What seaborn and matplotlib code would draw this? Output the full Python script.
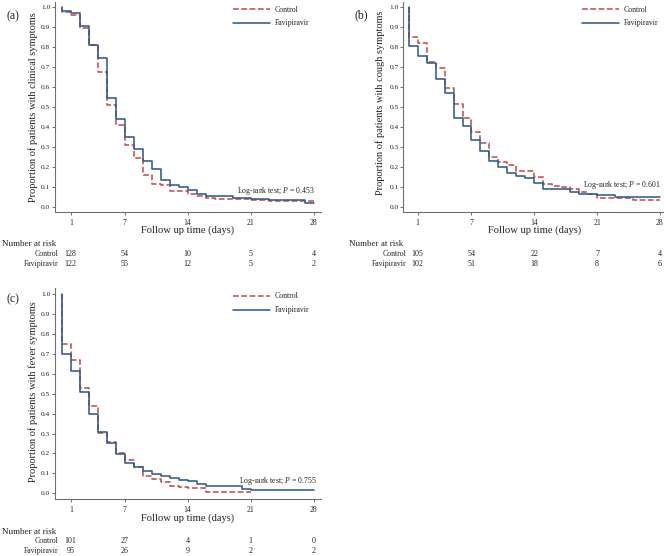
import numpy as np
import pandas as pd
import matplotlib
matplotlib.use("Agg")
import matplotlib.pyplot as plt
import matplotlib.transforms as mtransforms
import seaborn as sns

# ---------------- data ----------------
groups = ["Control", "Favipiravir"]

a_ctrl_t = [0, 0, 1, 2, 3, 4, 5, 6, 7, 8, 9, 10, 11, 12, 14, 15, 16, 17, 21, 23, 28]
a_ctrl_s = [1.0, 0.975, 0.958, 0.892, 0.81, 0.675, 0.508, 0.41, 0.31, 0.245, 0.16, 0.115,
            0.108, 0.08, 0.063, 0.053, 0.046, 0.038, 0.034, 0.03, 0.03]
a_fav_t = [0, 0, 1, 2, 3, 4, 5, 6, 7, 8, 9, 10, 11, 12, 13, 14, 15, 16, 19, 21, 23, 27, 28]
a_fav_s = [1.0, 0.98, 0.967, 0.903, 0.81, 0.745, 0.545, 0.44, 0.347, 0.29, 0.227, 0.187,
           0.133, 0.107, 0.097, 0.082, 0.063, 0.052, 0.046, 0.04, 0.033, 0.018, 0.018]

b_ctrl_t = [0, 0, 1, 2, 3, 4, 5, 6, 7, 8, 9, 10, 11, 12, 14, 15, 16, 17, 18, 19, 20, 21, 25, 28]
b_ctrl_s = [1.0, 0.853, 0.822, 0.725, 0.695, 0.597, 0.515, 0.443, 0.376, 0.318, 0.248, 0.222,
            0.207, 0.181, 0.15, 0.115, 0.105, 0.1, 0.09, 0.074, 0.063, 0.042, 0.034, 0.034]
b_fav_t = [0, 0, 1, 2, 3, 4, 5, 6, 7, 8, 9, 10, 11, 12, 13, 14, 15, 18, 19, 21, 23, 28]
b_fav_s = [1.0, 0.805, 0.757, 0.72, 0.64, 0.568, 0.443, 0.405, 0.333, 0.278, 0.231, 0.2,
           0.17, 0.154, 0.142, 0.12, 0.087, 0.075, 0.066, 0.06, 0.048, 0.048]

c_ctrl_t = [0, 0, 1, 2, 3, 4, 5, 6, 7, 8, 9, 10, 11, 12, 13, 14, 16, 21]
c_ctrl_s = [1.0, 0.75, 0.669, 0.527, 0.44, 0.305, 0.255, 0.203, 0.167, 0.134, 0.088, 0.072,
            0.055, 0.035, 0.03, 0.025, 0.008, 0.008]
c_fav_t = [0, 0, 1, 2, 3, 4, 5, 6, 7, 8, 9, 10, 11, 12, 13, 14, 15, 16, 20, 21, 28]
c_fav_s = [1.0, 0.70, 0.612, 0.51, 0.40, 0.308, 0.253, 0.195, 0.15, 0.134, 0.113, 0.098,
           0.087, 0.078, 0.068, 0.06, 0.048, 0.038, 0.022, 0.017, 0.017]

risk_days = [1, 7, 14, 21, 28]
a_risk_ctrl = [128, 54, 10, 5, 4]
a_risk_fav = [122, 55, 12, 5, 2]
b_risk_ctrl = [105, 54, 22, 7, 4]
b_risk_fav = [102, 51, 18, 8, 6]
c_risk_ctrl = [101, 27, 4, 1, 0]
c_risk_fav = [95, 26, 9, 2, 2]

ylabels = ["Proportion of patients with clinical symptoms",
           "Proportion of patients with cough symptoms",
           "Proportion of patients with fever symptoms"]
pvals = ["0.453", "0.601", "0.755"]
panel_tags = ["(a)", "(b)", "(c)"]
xticks = [1, 7, 14, 21, 28]
yticks = [0.0, 0.1, 0.2, 0.3, 0.4, 0.5, 0.6, 0.7, 0.8, 0.9, 1.0]

# ---------------- style ----------------
sns.set_style("white")
plt.rcParams["font.family"] = ["Liberation Serif", "DejaVu Serif"]
plt.rcParams["mathtext.fontset"] = "custom"
plt.rcParams["mathtext.it"] = "Liberation Serif:italic"
plt.rcParams["mathtext.rm"] = "Liberation Serif"

RED = "#c0504d"
BLUE = "#2f5b8c"
SPINE = "#6f6f6f"
TXT = "#222222"

W, H = 669, 556
fig = plt.figure(figsize=(W / 100, H / 100), dpi=100)


def rect(l, t, r, b):
    return [l / W, 1 - b / H, (r - l) / W, (b - t) / H]


def fx(x):
    return x / W


def fy(y):
    return 1 - y / H


panels = [
    dict(rect=rect(55, 1.7, 320.7, 212), xlim=(-0.75, 28.8), ylim=(-0.0265, 1.025),
         ctrl=(a_ctrl_t, a_ctrl_s), fav=(a_fav_t, a_fav_s),
         risk=(a_risk_ctrl, a_risk_fav), ylab_x=32.7, ylab_y=106.7,
         xlab_y=230.5, tag=(13.3, 16.7), leg=(233, 5.5),
         risk_title=(2, 244), risk_rows=(254, 263.5), risk_lab_x=58.5,
         pval_xy=(28.1, 0.078)),
    dict(rect=rect(403.3, 1.7, 663, 212.3), xlim=(-0.6, 28.35), ylim=(-0.028, 1.028),
         ctrl=(b_ctrl_t, b_ctrl_s), fav=(b_fav_t, b_fav_s),
         risk=(b_risk_ctrl, b_risk_fav), ylab_x=380, ylab_y=103,
         xlab_y=230.5, tag=(361.7, 15), leg=(581.5, 5.5),
         risk_title=(349, 244), risk_rows=(254, 263.5), risk_lab_x=406,
         pval_xy=(28.1, 0.11)),
    dict(rect=rect(55, 288.3, 320.7, 499), xlim=(-0.75, 28.8), ylim=(-0.0286, 1.0286),
         ctrl=(c_ctrl_t, c_ctrl_s), fav=(c_fav_t, c_fav_s),
         risk=(c_risk_ctrl, c_risk_fav), ylab_x=32.7, ylab_y=391.7,
         xlab_y=518, tag=(13.3, 299), leg=(233, 292.5),
         risk_title=(2, 531.7), risk_rows=(541, 550.7), risk_lab_x=58.5,
         pval_xy=(28.4, 0.062)),
]

for i, p in enumerate(panels):
    ax = fig.add_axes(p["rect"])
    df = pd.concat([
        pd.DataFrame({"day": p["ctrl"][0], "prob": p["ctrl"][1], "group": "Control"}),
        pd.DataFrame({"day": p["fav"][0], "prob": p["fav"][1], "group": "Favipiravir"}),
    ], ignore_index=True)
    sns.lineplot(data=df, x="day", y="prob", hue="group", style="group",
                 hue_order=groups, style_order=groups,
                 palette={"Control": RED, "Favipiravir": BLUE},
                 dashes={"Control": (3.6, 1.6), "Favipiravir": ""},
                 drawstyle="steps-post", estimator=None, sort=False,
                 linewidth=1.15, ax=ax)
    ax.set_xlim(*p["xlim"])
    ax.set_ylim(*p["ylim"])
    ax.set_xticks(xticks)
    ax.set_yticks(yticks)
    ax.set_yticklabels([f"{v:.1f}" for v in yticks])
    for s in ["top", "right"]:
        ax.spines[s].set_visible(False)
    for s in ["left", "bottom"]:
        ax.spines[s].set_color(SPINE)
        ax.spines[s].set_linewidth(0.8)
    ax.tick_params(axis="y", which="major", direction="out", length=2.4, width=0.7,
                   color=SPINE, labelsize=5.3, labelcolor=TXT, pad=1.0, left=True)
    ax.tick_params(axis="x", which="major", direction="out", length=2.4, width=0.7,
                   color=SPINE, labelsize=5.5, labelcolor=TXT, pad=2.5, bottom=True)
    ax.set_ylabel(ylabels[i], fontsize=7.5, color=TXT)
    ax.yaxis.set_label_coords(fx(p["ylab_x"]), 0, transform=fig.transFigure)
    ax.yaxis.label.set_va("center")
    ax.yaxis.label.set_y(fy(p["ylab_y"]))
    ax.set_xlabel("Follow up time (days)", fontsize=7.6, color=TXT)
    bl = mtransforms.blended_transform_factory(ax.transData, fig.transFigure)
    ax.xaxis.label.set_transform(bl)
    ax.xaxis.label.set_va("center")
    ax.xaxis.label.set_position((14, fy(p["xlab_y"])))
    ax.xaxis.set_label_coords(14, fy(p["xlab_y"]), transform=bl)

    # legend
    handles, labels = ax.get_legend_handles_labels()
    leg = ax.legend(handles, labels, loc="upper left",
                    bbox_to_anchor=(fx(p["leg"][0]), fy(p["leg"][1])),
                    bbox_transform=fig.transFigure, frameon=False,
                    fontsize=5.6, handlelength=4.8, handletextpad=0.6,
                    labelspacing=0.75, borderaxespad=0, borderpad=0)
    for t in leg.get_texts():
        t.set_color(TXT)

    # log-rank text
    ax.text(p["pval_xy"][0], p["pval_xy"][1],
            "Log-rank test; $\\it{P}$ = " + pvals[i],
            ha="right", va="center", fontsize=5.6, color=TXT)

    # panel tag
    fig.text(fx(p["tag"][0]), fy(p["tag"][1]), panel_tags[i], ha="center", va="center",
             fontsize=8.5, color=TXT)

    # number at risk
    fig.text(fx(p["risk_title"][0]), fy(p["risk_title"][1]), "Number at risk",
             ha="left", va="center", fontsize=6.5, color=TXT)
    for g, row_y, vals in zip(groups, p["risk_rows"], p["risk"]):
        fig.text(fx(p["risk_lab_x"]), fy(row_y), g, ha="right", va="center",
                 fontsize=5.6, color=TXT)
        for d, v in zip(risk_days, vals):
            ax.text(d, fy(row_y), str(v), transform=bl, ha="center", va="center",
                    fontsize=5.8, color=TXT)

fig.savefig("out.png", dpi=100, facecolor="white")
